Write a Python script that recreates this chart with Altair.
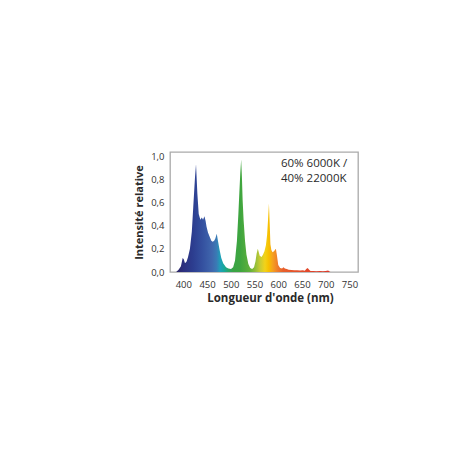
import altair as alt
import pandas as pd

# Spectrum (wavelength nm, relative intensity)
wavelength = [385, 390, 395, 398.7, 401, 403.6, 407, 410, 414, 418, 421, 424.7, 426.8, 429.6,
              432.5, 436, 439, 441.6, 444.5, 447, 449, 452, 456, 459, 462, 465, 467.5, 470.5,
              473, 476, 480, 484, 490, 495, 500.5, 505, 509, 513, 516, 518, 520, 521.9, 523.5,
              525, 527, 530, 533, 537, 541, 545, 549, 552, 554.5, 557, 559, 561, 565, 568, 571,
              574, 576.5, 578.5, 580.4, 582, 583.5, 585.5, 588, 591, 595, 597, 600, 604, 608,
              611, 614, 618, 622, 628, 634, 640, 646, 652, 656, 659, 662, 665, 668, 674, 680,
              688, 694, 700, 705, 708, 710]
intensity = [0.0, 0.02, 0.05, 0.12, 0.11, 0.075, 0.09, 0.13, 0.20, 0.35, 0.56, 0.82, 0.93, 0.68,
             0.50, 0.45, 0.47, 0.45, 0.48, 0.44, 0.39, 0.34, 0.30, 0.27, 0.26, 0.27, 0.29, 0.33,
             0.27, 0.20, 0.12, 0.075, 0.04, 0.03, 0.025, 0.04, 0.10, 0.27, 0.50, 0.68, 0.85, 0.97, 0.82,
             0.62, 0.45, 0.27, 0.15, 0.07, 0.035, 0.025, 0.04, 0.09, 0.16, 0.20, 0.17, 0.14, 0.13, 0.15, 0.18,
             0.23, 0.32, 0.45, 0.59, 0.42, 0.24, 0.19, 0.17, 0.18, 0.20, 0.15, 0.06, 0.035, 0.03,
             0.04, 0.03, 0.025, 0.02, 0.018, 0.015, 0.015, 0.012, 0.015, 0.01, 0.025, 0.035, 0.02, 0.008, 0.008, 0.006,
             0.008, 0.006, 0.008, 0.012, 0.004, 0.0]

# Spectral colours along the wavelength axis
stop_nm = [385, 400, 420, 440, 460, 470, 478, 486, 495, 505, 520, 540, 552, 562, 572, 580, 588, 598, 610, 640, 680, 710]
stop_col = ["#2b2466", "#2c2f7f", "#2c3d8f", "#34509f", "#3f66ad", "#3a7ab5", "#1ea0b8", "#17a89a",
            "#2aa56a", "#3aa445", "#3ea53f", "#5fb03c", "#94be3a", "#c9cc33", "#f2d21a", "#f7c000",
            "#f5a21e", "#ef7f2a", "#e8602c", "#e4502a", "#e0402a", "#dc3a2a"]

x_ticks = [400, 450, 500, 550, 600, 650, 700, 750]
y_ticks = [0.0, 0.2, 0.4, 0.6, 0.8, 1.0]

note_lines = ["60% 6000K /", "40% 22000K"]
note_x = [605.7, 605.7]
note_y = [0.935, 0.805]

lo, hi = min(wavelength), max(wavelength)
stops = [alt.GradientStop(color=c, offset=(w - lo) / (hi - lo)) for w, c in zip(stop_nm, stop_col)]

df = pd.DataFrame({"wl": wavelength, "val": intensity})
notes = pd.DataFrame({"x": note_x, "y": note_y, "t": note_lines})

xscale = alt.Scale(domain=[372, 768], nice=False, zero=False)
yscale = alt.Scale(domain=[0, 1.035], nice=False)

label_font = "'Liberation Sans Narrow', 'Open Sans', sans-serif"

xaxis = alt.Axis(values=x_ticks, title="Longueur d'onde (nm)", labelPadding=7,
                 titlePadding=4, titleX=100, labelOverlap=False, labelFlush=False,
                 titleFontSize=11.5)
yaxis = alt.Axis(values=y_ticks, title="Intensité relative", labelPadding=6,
                 titlePadding=6, labelOverlap=False, labelFlush=False, titleFontSize=11,
                 labelExpr="replace(format(datum.value, '.1f'), '.', ',')")

area = alt.Chart(df).mark_area(
    color=alt.Gradient(gradient="linear", stops=stops, x1=0, x2=1, y1=0, y2=0),
    interpolate="linear",
).encode(
    x=alt.X("wl:Q", scale=xscale, axis=xaxis),
    y=alt.Y("val:Q", scale=yscale, axis=yaxis),
)

text = alt.Chart(notes).mark_text(
    align="left", baseline="middle", fontSize=11.5, font="Open Sans", color="#2a2a2a"
).encode(
    x=alt.X("x:Q", scale=xscale, axis=xaxis),
    y=alt.Y("y:Q", scale=yscale, axis=yaxis),
    text="t:N",
)

chart = alt.layer(area, text).properties(
    width=188, height=120,
    autosize=alt.AutoSizeParams(type="none"),
    padding={"left": 162, "top": 144, "right": 86, "bottom": 172},
).configure_view(
    stroke="#aaaaaa", strokeWidth=1.3
).configure_axis(
    ticks=False, domain=False, grid=False, labelOverlap=False,
    labelFont=label_font, labelFontSize=9.5, labelColor="#333333",
    titleFont="Open Sans", titleFontWeight="bold", titleColor="#2a2a2a",
)

chart.save("out.html", embed_options={"renderer": "svg", "actions": False})
